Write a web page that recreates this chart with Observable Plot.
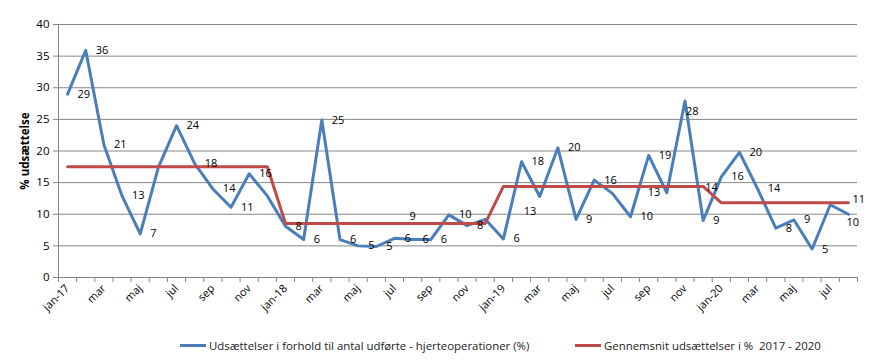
<!DOCTYPE html>
<html>
<head>
<meta charset="utf-8">
<script src="https://cdn.jsdelivr.net/npm/d3@7"></script>
<script src="https://cdn.jsdelivr.net/npm/@observablehq/plot@0.6"></script>
<style>
  html, body { margin: 0; padding: 0; background: #fff; }
  #wrap { position: relative; width: 881px; height: 361px; font-family: "Open Sans", sans-serif; }
  #chart svg { display: block; }
  [aria-label="y-axis label"] text { font-weight: bold; font-size: 11.5px; }
  .legend { position: absolute; top: 338px; font-size: 11.4px; color: #222; white-space: pre; display: flex; align-items: center; }
  .legend .sw { display: inline-block; width: 26px; height: 3px; margin-right: 3px; }
</style>
</head>
<body>
<div id="wrap">
  <div id="chart"></div>
  <div class="legend" style="left:180px"><span class="sw" style="background:#4a7ebb"></span>Udsættelser i forhold til antal udførte - hjerteoperationer (%)</div>
  <div class="legend" style="left:575px"><span class="sw" style="background:#be4b48"></span>Gennemsnit udsættelser i %  2017 - 2020</div>
</div>
<script>
// Months (category axis), jan-17 .. aug-20
const months = [
  "jan-17","feb","mar","apr","maj","jun","jul","aug","sep","okt","nov","dec",
  "jan-18","feb","mar","apr","maj","jun","jul","aug","sep","okt","nov","dec",
  "jan-19","feb","mar","apr","maj","jun","jul","aug","sep","okt","nov","dec",
  "jan-20","feb","mar","apr","maj","jun","jul","aug"
];
// Udsættelser i forhold til antal udførte - hjerteoperationer (%)
const udsaettelser = [
  29.0, 35.9, 21.0, 12.9, 6.9, 17.4, 24.0, 18.0, 14.0, 11.1, 16.4, 12.9,
  8.1, 6.0, 24.9, 6.0, 5.0, 4.9, 6.2, 6.0, 6.0, 9.9, 8.2, 9.2,
  6.1, 18.3, 12.8, 20.5, 9.2, 15.4, 13.3, 9.6, 19.3, 13.4, 27.9, 9.0,
  15.9, 19.8, 14.0, 7.8, 9.1, 4.5, 11.5, 10.0
];
// Gennemsnit udsættelser i % 2017 - 2020
const gennemsnit = [
  17.5, 17.5, 17.5, 17.5, 17.5, 17.5, 17.5, 17.5, 17.5, 17.5, 17.5, 17.5,
  8.55, 8.55, 8.55, 8.55, 8.55, 8.55, 8.55, 8.55, 8.55, 8.55, 8.55, 8.55,
  14.4, 14.4, 14.4, 14.4, 14.4, 14.4, 14.4, 14.4, 14.4, 14.4, 14.4, 14.4,
  11.8, 11.8, 11.8, 11.8, 11.8, 11.8, 11.8, 11.8
];
// Data labels shown in the chart (null = no label)
const udsaettelserLabels = [
  "29","36","21","13","7",null,"24","18","14","11","16",null,
  "8","6","25","6","5","5","6","6","6","10","8",null,
  "6","18","13","20","9","16",null,"10","19","13","28","9",
  "16","20","14","8","9","5",null,"10"
];
const gennemsnitLabels = [
  null,null,null,null,null,null,null,null,null,null,null,null,
  null,null,null,null,null,null,null,"9",null,null,null,null,
  null,null,null,null,null,null,null,null,null,null,null,"14",
  null,null,null,null,null,null,null,"11"
];
const yTicks = [0, 5, 10, 15, 20, 25, 30, 35, 40];

const idx = months.map((_, i) => i);
const blue = idx.map(i => ({i, v: udsaettelser[i], label: udsaettelserLabels[i]}));
const red = idx.map(i => ({i, v: gennemsnit[i], label: gennemsnitLabels[i]}));
const boundaries = [...idx.map(i => i - 0.5), months.length - 0.5];
const labeledTicks = idx.filter(i => i % 2 === 0);

// label nudges (pixels)
const blueNudge = {26: [-16, 15], 33: [-19, 0], 34: [1, 10], 43: [-2, 8]};
const redNudge = {19: [-3, -7], 35: [2, 1], 43: [4, -3]};

function labelMarks(data, nudge) {
  const withLabels = data.filter(d => d.label != null);
  const defaults = withLabels.filter(d => !(d.i in nudge));
  const marks = [Plot.text(defaults, {x: "i", y: "v", text: "label", dx: 10, textAnchor: "start", fill: "#000", fontSize: 11})];
  for (const d of withLabels.filter(d => d.i in nudge)) {
    const [dx, dy] = nudge[d.i];
    marks.push(Plot.text([d], {x: "i", y: "v", text: "label", dx, dy, textAnchor: "start", fill: "#000", fontSize: 11}));
  }
  return marks;
}

const chart = Plot.plot({
  width: 881,
  height: 325,
  marginLeft: 58,
  marginRight: 24,
  marginTop: 24,
  marginBottom: 48,
  style: {fontFamily: "Open Sans, sans-serif", fontSize: "11px", color: "#000", background: "#fff"},
  x: {type: "linear", domain: [boundaries[0], boundaries[boundaries.length - 1]]},
  y: {domain: [0, 40]},
  marks: [
    Plot.gridY(yTicks.filter(t => t > 0), {stroke: "#868686", strokeOpacity: 1, strokeWidth: 1}),
    Plot.axisY({ticks: yTicks, tickSize: 5, stroke: "#868686", tickPadding: 4, fontSize: 11.5, label: "% udsættelse", labelAnchor: "center", labelArrow: "none", labelOffset: 38}),
    Plot.axisX({ticks: boundaries, tickSize: 5, stroke: "#868686", tickFormat: () => "", label: null}),
    Plot.axisX({ticks: labeledTicks, tickSize: 0, tickRotate: -45, tickPadding: 9, tickFormat: i => months[i], label: null}),
    Plot.ruleY([0], {stroke: "#868686"}),
    Plot.ruleX([boundaries[0]], {y1: 0, y2: 40, stroke: "#868686"}),
    Plot.line(blue, {x: "i", y: "v", stroke: "#4a7ebb", strokeWidth: 3}),
    Plot.line(red, {x: "i", y: "v", stroke: "#be4b48", strokeWidth: 3}),
    ...labelMarks(blue, blueNudge),
    ...labelMarks(red, redNudge)
  ]
});
document.getElementById("chart").appendChild(chart);
</script>
</body>
</html>
